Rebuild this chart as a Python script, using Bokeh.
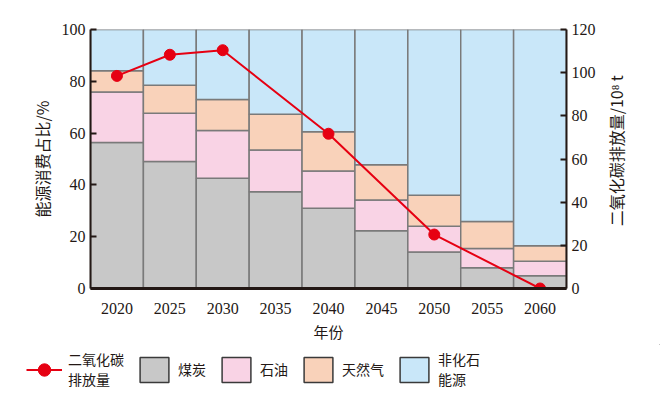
import math
from bokeh.plotting import figure
from bokeh.layouts import column, row
from bokeh.core.properties import value
from bokeh.models import Range1d, LinearAxis, FactorRange, Legend, LegendItem, FixedTicker
from bokeh.embed import file_html
from bokeh.resources import INLINE

years = ["2020", "2025", "2030", "2035", "2040", "2045", "2050", "2055", "2060"]
coal = [56.4, 49.0, 42.6, 37.4, 31.0, 22.3, 14.1, 8.0, 4.9]
oil = [19.5, 18.7, 18.4, 16.1, 14.4, 11.9, 9.9, 7.4, 5.6]
gas = [8.2, 10.8, 12.0, 13.8, 15.1, 13.6, 12.0, 10.5, 6.0]
nonfossil = [round(100 - c - o - g, 1) for c, o, g in zip(coal, oil, gas)]

co2_years = ["2020", "2025", "2030", "2040", "2050", "2060"]
co2 = [98.5, 108.3, 110.4, 71.7, 25.0, 0.0]

stack_names = ["coal", "oil", "gas", "nonfossil"]
stack_labels = ["煤炭", "石油", "天然气", "非化石\n能源"]
co2_label = "二氧化碳\n排放量"
left_title = "能源消费占比/%"
right_title = "二氧化碳排放量/10⁸ t"
colors = ["#c8c8c8", "#f9d3e5", "#f9d2ba", "#c9e7f9"]
RED = "#e60012"

CJK = "Noto Sans CJK SC"
SERIF = "Liberation Serif"
INK = "#231815"

p = figure(frame_width=476, frame_height=259, x_range=FactorRange(*years, range_padding=0),
           y_range=Range1d(0, 100), output_backend="svg", toolbar_location=None,
           min_border_left=90, min_border_right=36, min_border_top=29, min_border_bottom=0)
p.outline_line_color = None
p.grid.visible = False
p.extra_y_ranges = {"co2": Range1d(0, 120)}

data = dict(years=years, coal=coal, oil=oil, gas=gas, nonfossil=nonfossil)
bars = p.vbar_stack(stack_names, x="years", width=1.0, source=data, fill_color=colors,
                    line_color="#7a7a7a", line_width=1.5)

p.line(co2_years, co2, y_range_name="co2", line_color=RED, line_width=2)
p.scatter(co2_years, co2, y_range_name="co2", size=11, fill_color=RED, line_color=RED)

def style_y(ax):
    ax.axis_label_text_font = CJK
    ax.axis_label_text_font_style = "normal"
    ax.axis_label_text_font_size = "16px"
    ax.axis_label_text_color = INK
    ax.major_label_text_font = SERIF
    ax.major_label_text_font_size = "16px"
    ax.major_label_text_color = INK
    ax.major_tick_in = 6
    ax.major_tick_out = 0
    ax.minor_tick_line_color = None
    ax.axis_line_width = 2
    ax.major_tick_line_width = 2
    ax.axis_line_color = INK
    ax.major_tick_line_color = INK

ya = p.yaxis[0]
ya.ticker = FixedTicker(ticks=[0, 20, 40, 60, 80, 100])
ya.axis_label = left_title
style_y(ya)

ra = LinearAxis(y_range_name="co2", ticker=FixedTicker(ticks=[0, 20, 40, 60, 80, 100, 120]))
style_y(ra)
p.add_layout(ra, "right")

xa = p.xaxis[0]
xa.axis_label = "年份"
xa.axis_label_text_font = CJK
xa.axis_label_text_font_style = "normal"
xa.axis_label_text_font_size = "15px"
xa.axis_label_text_color = INK
xa.axis_label_standoff = 4
xa.major_label_standoff = 8
xa.major_label_text_font = SERIF
xa.major_label_text_font_size = "16px"
xa.major_label_text_color = INK
xa.major_tick_line_color = None
xa.minor_tick_line_color = None
xa.axis_line_width = 3
xa.axis_line_color = INK

# right-axis title strip: reads bottom-to-top, centred beside the frame
rf = figure(width=26, height=343, x_range=Range1d(0, 1), y_range=Range1d(0, 1),
            x_axis_type=None, y_axis_type=None, output_backend="svg", toolbar_location=None,
            min_border_left=0, min_border_right=0, min_border_top=0, min_border_bottom=0)
rf.outline_line_color = None
rf.grid.visible = False
rf.text(x=[0.5], y=[0.53], text=[right_title], angle=math.pi / 2,
        text_align="center", text_baseline="middle", text_font=value(CJK),
        text_font_size="16px", text_color=INK)

# legend strip: separate figure; key renderers sit outside its visible range
lf = figure(width=660, height=52, x_range=Range1d(0, 1), y_range=Range1d(0, 1),
            x_axis_type=None, y_axis_type=None, output_backend="svg", toolbar_location=None,
            min_border_left=0, min_border_right=0, min_border_top=0, min_border_bottom=0)
lf.outline_line_color = None
lf.grid.visible = False
k_line = lf.line(x=[5, 6], y=[5, 5], line_color=RED, line_width=2)
k_dot = lf.scatter(x=[5], y=[5], size=11, fill_color=RED, line_color=RED)
items = [LegendItem(label=co2_label, renderers=[k_line, k_dot])]
for c, lab in zip(colors, stack_labels):
    r = lf.vbar(x=[5], top=[6], bottom=5, width=0.5, fill_color=c,
                line_color="#3a3a3a", line_width=1.5)
    items.append(LegendItem(label=lab, renderers=[r]))
legend = Legend(items=items, orientation="horizontal", location=(26, 7), nrows=1,
                label_text_font=CJK, label_text_font_size="14px", label_text_color=INK,
                label_text_line_height=1.3,
                glyph_width=36, glyph_height=31, spacing=12, label_standoff=6,
                border_line_color=None, background_fill_alpha=0, padding=2, margin=0)
lf.add_layout(legend)

layout = column(row(p, rf, spacing=0), row(lf), spacing=0)
open("out.html", "w").write(file_html(layout, INLINE))
